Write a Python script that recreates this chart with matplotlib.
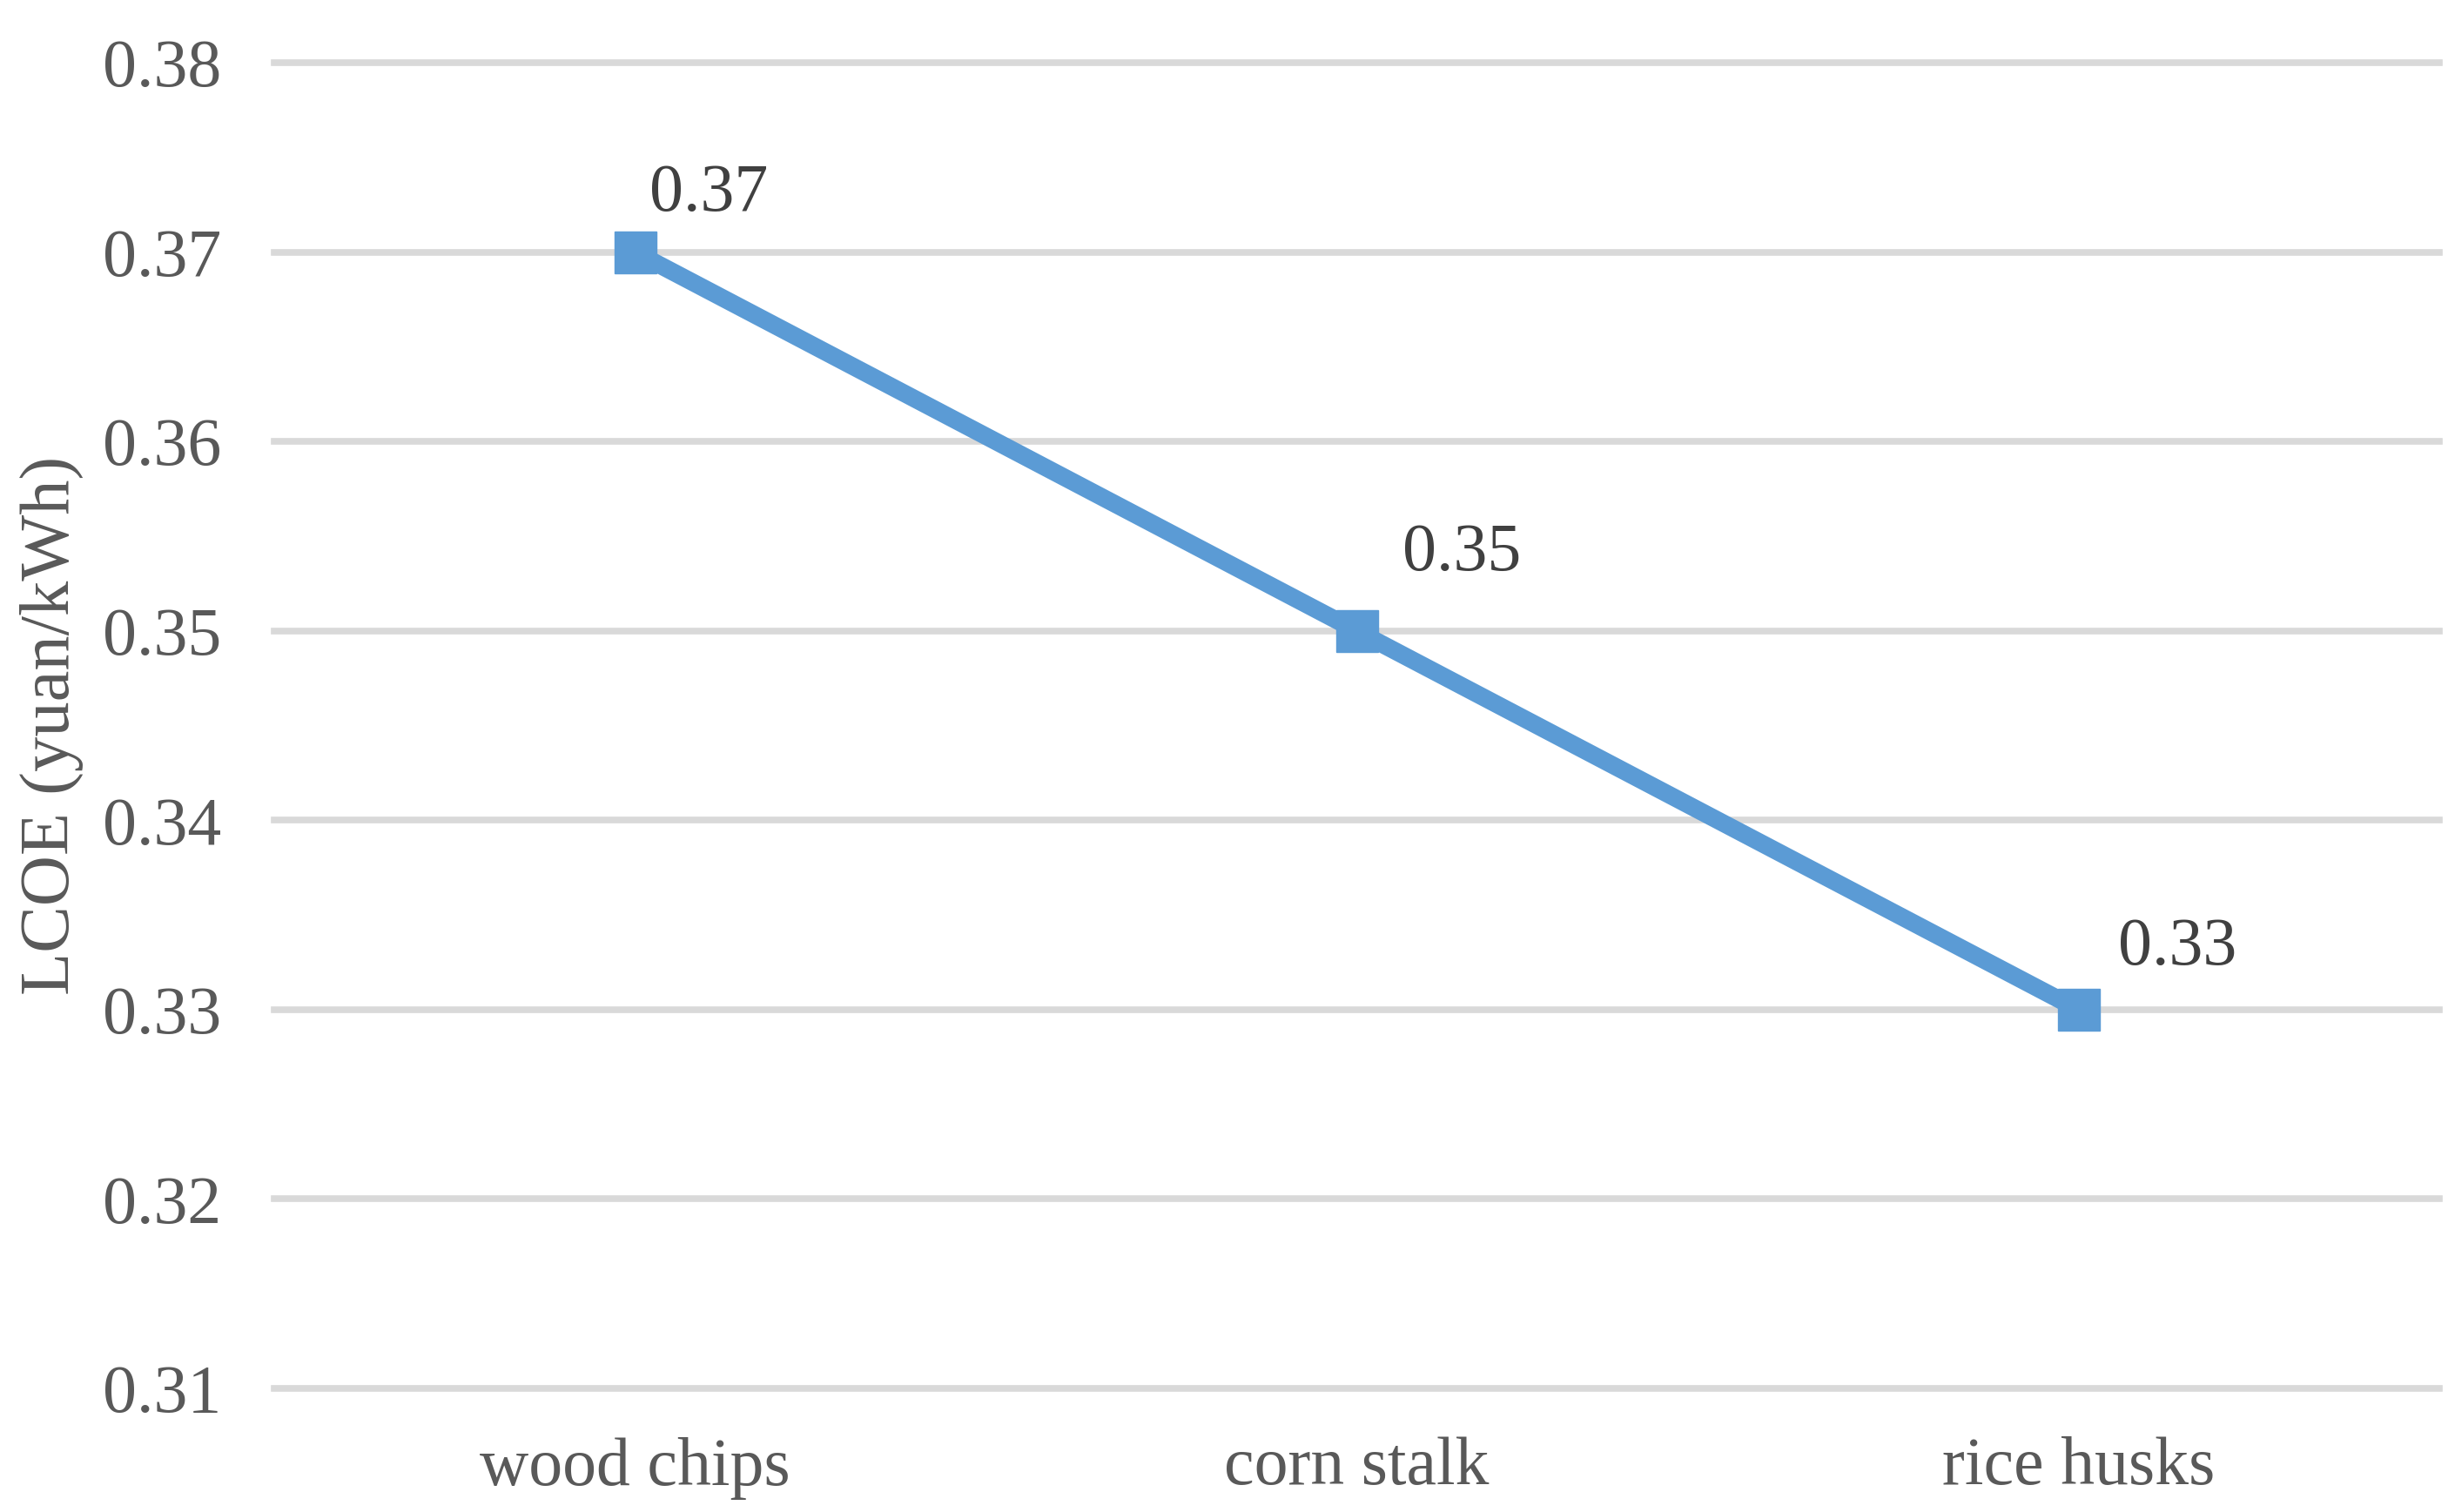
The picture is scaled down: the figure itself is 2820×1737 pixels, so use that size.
import matplotlib
matplotlib.use('Agg')
import matplotlib.pyplot as plt

# data
categories = ['wood chips', 'corn stalk', 'rice husks']
lcoe = [0.37, 0.35, 0.33]
value_labels = ['0.37', '0.35', '0.33']
yticks = [0.31, 0.32, 0.33, 0.34, 0.35, 0.36, 0.37, 0.38]

plt.rcParams['font.family'] = ['Liberation Serif', 'DejaVu Serif']

fig = plt.figure(figsize=(28.2, 17.37), dpi=100)
ax = fig.add_axes([315 / 2820, 1 - 1595 / 1737, (2802 - 315) / 2820, (1595 - 72) / 1737])

x = list(range(len(categories)))
ax.plot(x, lcoe, color='#5B9BD5', lw=14.5, marker='s', markersize=35,
        markerfacecolor='#5B9BD5', markeredgecolor='#5B9BD5', zorder=3,
        solid_joinstyle='miter', clip_on=False)

# label offsets in points (labels sit right/above each marker)
offs = [(12, 22), (38, 38), (33, 25)]
for xi, yi, lab, o in zip(x, lcoe, value_labels, offs):
    ax.annotate(lab, (xi, yi), xytext=o, textcoords='offset points',
                ha='left', va='bottom', fontsize=56, color='#404040')

ax.set_xlim(-0.5, 2.5)
ax.set_ylim(0.31, 0.38)
ax.set_yticks(yticks)
ax.set_yticklabels([f'{v:.2f}' for v in yticks])
ax.set_xticks(x)
ax.set_xticklabels(categories)
ax.tick_params(axis='both', length=0, labelsize=56, labelcolor='#595959')
ax.tick_params(axis='y', pad=44)
ax.tick_params(axis='x', pad=40)

ax.grid(axis='y', color='#D9D9D9', lw=5.5)
for gl in ax.get_ygridlines():
    gl.set_clip_on(False)
ax.set_axisbelow(True)
for s in ax.spines.values():
    s.set_visible(False)

ax.set_ylabel('LCOE (yuan/kWh)', fontsize=58, color='#595959')
# the label's right edge sits near x=96px
ax.yaxis.set_label_coords(-(315 - 96) / (2802 - 315), 0.5)

fig.savefig('out.png', dpi=100)
